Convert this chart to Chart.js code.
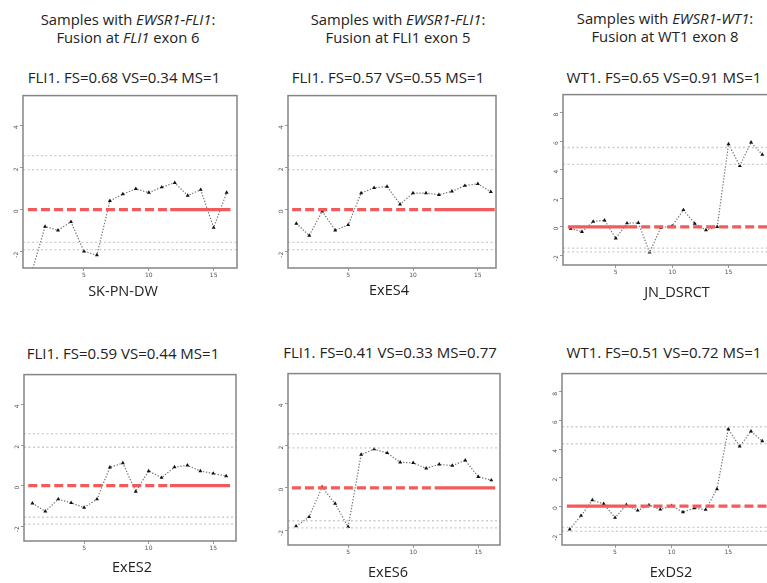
<!DOCTYPE html>
<html>
<head>
<meta charset="utf-8">
<script src="https://cdn.jsdelivr.net/npm/chart.js@4"></script>
<style>
  html, body { margin: 0; padding: 0; overflow: hidden; background: #fff; }
  body { width: 767px; height: 583px; position: relative; font-family: "Open Sans", sans-serif; color: #222; }
  .t { position: absolute; transform: translate(-50%, -50%); white-space: nowrap; text-align: center; }
  .head { font-size: 14.8px; line-height: 18px; }
  .ptitle { font-size: 15px; }
  .sample { font-size: 14.5px; }
  canvas { position: absolute; }
</style>
</head>
<body>
<script>
// values (log ratio per exon)
const skPnDw = [-2.92, -0.81, -0.98, -0.58, -1.98, -2.16, 0.41, 0.73, 0.98, 0.80, 1.06, 1.27, 0.66, 0.94, -0.86, 0.80];
const exES4 = [-0.66, -1.23, -0.08, -0.98, -0.73, 0.78, 1.03, 1.09, 0.25, 0.78, 0.78, 0.70, 0.86, 1.13, 1.22, 0.84];
const jnDsrct = [-0.12, -0.35, 0.37, 0.46, -0.81, 0.25, 0.28, -1.80, -0.05, 0.05, 1.18, 0.23, -0.23, 0.0, 5.80, 4.28, 5.92, 5.06];
const exES2 = [-0.87, -1.27, -0.67, -0.85, -1.08, -0.67, 0.90, 1.11, -0.29, 0.72, 0.39, 0.91, 1.00, 0.72, 0.60, 0.47];
const exES6 = [-1.82, -1.38, 0.03, -0.75, -1.85, 1.57, 1.83, 1.65, 1.21, 1.18, 0.92, 1.11, 1.05, 1.30, 0.52, 0.36];
const exDS2 = [-1.62, -0.67, 0.42, 0.16, -0.81, 0.09, -0.30, 0.07, -0.23, 0.02, -0.42, -0.14, -0.25, 1.20, 5.40, 4.18, 5.24, 4.55];

const fliThresholds = [2.56, 1.89, -1.56, -1.90];
const wtThresholds = [5.56, 4.37, -1.49, -1.76];
const fliYTicks = [-2, 0, 2, 4];
const wtYTicks = [-2, 0, 2, 4, 6, 8];
const xTicks = [5, 10, 15];

// red baseline pieces [from, to] in exon units
const fliDashed = [0.68, 11.65];
const fliSolid = [11.65, 16.3];
const wtSolid = [0.75, 6.1];
const wtDashed = [6.1, 18.7];

const colHeads = [
  ["Samples with <i>EWSR1-FLI1</i>:", "Fusion at <i>FLI1</i> exon 6"],
  ["Samples with <i>EWSR1-FLI1</i>:", "Fusion at FLI1 exon 5"],
  ["Samples with <i>EWSR1-WT1</i>:", "Fusion at WT1 exon 8"]
];
const panelTitles = [
  "FLI1. FS=0.68 VS=0.34 MS=1", "FLI1. FS=0.57 VS=0.55 MS=1", "WT1. FS=0.65 VS=0.91 MS=1",
  "FLI1. FS=0.59 VS=0.44 MS=1", "FLI1. FS=0.41 VS=0.33 MS=0.77", "WT1. FS=0.51 VS=0.72 MS=1"
];
const sampleNames = ["SK-PN-DW", "ExES4", "JN_DSRCT", "ExES2", "ExES6", "ExDS2"];
const sampleValues = [skPnDw, exES4, jnDsrct, exES2, exES6, exDS2];

// layout: plot box [left, top, right, bottom] in page pixels
const panels = [
  { box: [23, 94, 237, 268], x: [0.30, 16.8], y: [-2.77, 5.4], kind: "fli", title: [124, 77], name: [123, 290] },
  { box: [288, 94, 496, 268], x: [0.36, 16.4], y: [-2.77, 5.4], kind: "fli", title: [388, 77], name: [389, 289] },
  { box: [563, 93, 770, 265], x: [0.32, 18.68], y: [-2.68, 9.27], kind: "wt", title: [664, 77], name: [677, 291] },
  { box: [24, 373, 236, 541], x: [0.35, 16.76], y: [-2.73, 5.47], kind: "fli", title: [123, 353], name: [132, 566] },
  { box: [288, 372, 500, 545], x: [0.38, 16.67], y: [-2.71, 5.41], kind: "fli", title: [390, 352], name: [388, 571] },
  { box: [562, 372, 770, 545], x: [0.32, 18.68], y: [-2.72, 9.28], kind: "wt", title: [664, 352], name: [671, 571] }
];
const headPos = [[128, 28], [398, 28], [665, 27]];

function addText(cls, html, x, y) {
  const d = document.createElement("div");
  d.className = "t " + cls;
  d.innerHTML = html;
  d.style.left = x + "px";
  d.style.top = y + "px";
  document.body.appendChild(d);
}

colHeads.forEach((h, i) => addText("head", h[0] + "<br>" + h[1], headPos[i][0], headPos[i][1]));

const boxPlugin = {
  id: "box",
  afterDatasetsDraw(chart) {
    const { ctx, chartArea: a } = chart;
    ctx.save();
    ctx.strokeStyle = "#858585";
    ctx.lineWidth = 1.5;
    ctx.strokeRect(a.left, a.top, a.right - a.left, a.bottom - a.top);
    ctx.restore();
  }
};

const yAxisW = 22, xAxisH = 16, padTop = 6, padRight = 6;

panels.forEach((p, i) => {
  const [L, T, R, B] = p.box;
  const cv = document.createElement("canvas");
  cv.width = (R - L) + yAxisW + padRight;
  cv.height = (B - T) + padTop + xAxisH;
  cv.style.left = (L - yAxisW) + "px";
  cv.style.top = (T - padTop) + "px";
  document.body.appendChild(cv);

  addText("ptitle", panelTitles[i], p.title[0], p.title[1]);
  addText("sample", sampleNames[i], p.name[0], p.name[1]);

  const fli = p.kind === "fli";
  const thr = fli ? fliThresholds : wtThresholds;
  const yTicks = fli ? fliYTicks : wtYTicks;
  const dashedSeg = fli ? fliDashed : wtDashed;
  const solidSeg = fli ? fliSolid : wtSolid;

  const datasets = thr.map(t => ({
    data: [{ x: p.x[0], y: t }, { x: p.x[1], y: t }],
    borderColor: "#cccccc",
    borderWidth: 1.3,
    borderDash: [2, 2.5],
    pointRadius: 0
  }));
  datasets.push({
    data: dashedSeg.map(v => ({ x: v, y: 0 })),
    borderColor: "#f15b5b",
    borderWidth: 3.2,
    borderDash: [9, 4],
    pointRadius: 0
  });
  datasets.push({
    data: solidSeg.map(v => ({ x: v, y: 0 })),
    borderColor: "#f15b5b",
    borderWidth: 3.2,
    pointRadius: 0
  });
  datasets.push({
    data: sampleValues[i].map((v, k) => ({ x: k + 1, y: v })),
    borderColor: "#707070",
    borderWidth: 1.2,
    borderDash: [1.3, 1.7],
    pointStyle: "triangle",
    pointRadius: 2.3,
    pointBackgroundColor: "#111",
    pointBorderColor: "#111",
    pointBorderWidth: 0
  });

  new Chart(cv.getContext("2d"), {
    type: "line",
    data: { datasets },
    options: {
      responsive: false,
      animation: false,
      layout: { padding: { top: padTop, right: padRight, left: 0, bottom: 0 } },
      plugins: { legend: { display: false }, tooltip: { enabled: false } },
      scales: {
        x: {
          type: "linear",
          min: p.x[0],
          max: p.x[1],
          afterFit: s => { s.height = xAxisH; },
          afterBuildTicks: s => { s.ticks = xTicks.map(v => ({ value: v })); },
          border: { display: false },
          grid: { drawOnChartArea: false, drawTicks: true, tickLength: 3, color: "#999" },
          ticks: { font: { size: 6, family: "DejaVu Sans" }, color: "#555", padding: 1, maxRotation: 0 }
        },
        y: {
          type: "linear",
          min: p.y[0],
          max: p.y[1],
          afterFit: s => { s.width = yAxisW; },
          afterBuildTicks: s => { s.ticks = yTicks.map(v => ({ value: v })); },
          border: { display: false },
          grid: { drawOnChartArea: false, drawTicks: true, tickLength: 3, color: "#999" },
          ticks: { font: { size: 6, family: "DejaVu Sans" }, color: "#555", padding: 4, minRotation: 90, maxRotation: 90 }
        }
      }
    },
    plugins: [boxPlugin]
  });
});
</script>
</body>
</html>
